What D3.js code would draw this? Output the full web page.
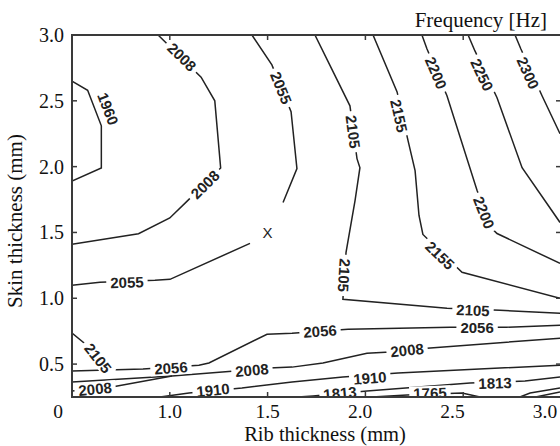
<!DOCTYPE html>
<html>
<head>
<meta charset="utf-8">
<script src="https://cdn.jsdelivr.net/npm/d3@7"></script>
<style>
  body { margin: 0; background: #fff; }
</style>
</head>
<body>
<div id="chart"></div>
<script>
// contour lines, [rib thickness, skin thickness] in mm, one array per polyline
const c1668 = [[[2.87, 0.25], [2.995, 0.288]]]
const c1717 = [[[2.79, 0.25], [2.842, 0.28], [2.995, 0.318]]]
const c1765 = [[[2.034, 0.25], [2.213, 0.265], [2.494, 0.28], [2.586, 0.25]]]
const c1813 = [[[1.655, 0.25], [1.732, 0.258], [2.008, 0.295], [2.535, 0.356], [2.816, 0.371], [2.995, 0.402]]]
const c1910 = [[[0.95, 0.25], [1.098, 0.28], [1.369, 0.318], [1.625, 0.364], [1.885, 0.402], [2.167, 0.432], [2.995, 0.492]]]
const c1960 = [[[0.5, 2.65], [0.58, 2.58], [0.65, 2.31], [0.65, 1.99], [0.5, 1.89]]]
const c2008 = [
  [[0.94, 3.0], [1.16, 2.68], [1.23, 2.5], [1.26, 1.99], [1.09, 1.74], [1.0, 1.61], [0.84, 1.49], [0.5, 1.41]],
  [[0.5, 0.364], [1.011, 0.409], [1.333, 0.447], [1.507, 0.47], [1.625, 0.477], [1.783, 0.508], [2.008, 0.583], [2.126, 0.591], [2.315, 0.621], [2.995, 0.697]],
  [[0.5, 0.295], [0.704, 0.326], [1.011, 0.409]]
]
const c2055 = [
  [[1.42, 3.0], [1.522, 2.773], [1.62, 2.417], [1.65, 1.985], [1.579, 1.727]],
  [[1.41, 1.417], [1.001, 1.144], [0.924, 1.136], [0.643, 1.121], [0.5, 1.098]]
]
const c2056 = [[[0.5, 0.447], [0.863, 0.462], [1.149, 0.492], [1.2, 0.508], [1.497, 0.727], [1.625, 0.735], [1.911, 0.765], [2.433, 0.78], [2.719, 0.78], [2.995, 0.795]]]
const c2105 = [
  [[1.742, 3.0], [1.921, 2.462], [1.957, 2.061], [1.972, 1.992], [1.947, 1.742], [1.901, 1.348], [1.885, 0.992], [2.417, 0.924], [2.688, 0.909], [2.995, 0.886]],
  [[0.5, 0.735], [0.582, 0.636], [0.694, 0.424]]
]
const c2155 = [[[2.039, 3.0], [2.162, 2.568], [2.218, 2.197], [2.254, 1.97], [2.274, 1.629], [2.294, 1.485], [2.494, 1.197], [2.995, 1.0]]]
const c2200 = [[[2.289, 3.0], [2.315, 2.894], [2.417, 2.538], [2.571, 1.818], [2.647, 1.53], [2.673, 1.492], [2.995, 1.265]]]
const c2250 = [[[2.525, 3.0], [2.56, 2.879], [2.673, 2.523], [2.801, 1.992], [2.928, 1.72], [2.995, 1.576]]]
const c2300 = [[[2.765, 3.0], [2.795, 2.894], [2.903, 2.538], [2.995, 2.25]]]

const levels = [1668, 1717, 1765, 1813, 1910, 1960, 2008, 2055, 2056, 2105, 2155, 2200, 2250, 2300]
const contourLines = [c1668, c1717, c1765, c1813, c1910, c1960, c2008, c2055, c2056, c2105, c2155, c2200, c2250, c2300]

// inline labels: [level, rib, skin]
const contourLabels = [
  [1960, 0.684, 2.439],
  [2008, 1.062, 2.833], [2008, 1.18, 1.864], [2008, 1.42, 0.455], [2008, 2.213, 0.606], [2008, 0.618, 0.311],
  [2055, 1.569, 2.598], [2055, 0.781, 1.121],
  [2105, 1.937, 2.265], [2105, 1.891, 1.174], [2105, 2.55, 0.909], [2105, 0.633, 0.545],
  [2056, 1.006, 0.47], [2056, 1.768, 0.75], [2056, 2.571, 0.78],
  [1910, 1.221, 0.303], [1910, 2.023, 0.394],
  [1813, 1.87, 0.28], [1813, 2.663, 0.356],
  [1765, 2.33, 0.28],
  [2155, 2.172, 2.386], [2155, 2.381, 1.326],
  [2200, 2.361, 2.712], [2200, 2.606, 1.652],
  [2250, 2.596, 2.697],
  [2300, 2.831, 2.712]
]

const optimum = [1.5, 1.5]

const xTicks = [0.5, 1.0, 1.5, 2.0, 2.5, 3.0]
const xTickLabels = ['0', '1.0', '1.5', '2.0', '2.5', '3.0']
const yTicks = [0.5, 1.0, 1.5, 2.0, 2.5, 3.0]
const yTickLabels = ['0.5', '1.0', '1.5', '2.0', '2.5', '3.0']

const canvasWidth = 560
const canvasHeight = 446
const margins = {top: 35, right: -1, bottom: 49, left: 72}
const width = canvasWidth - margins.left - margins.right
const height = canvasHeight - margins.top - margins.bottom

const xScale = d3.scaleLinear().domain([0.5, 3.0]).range([0, width])
const yScale = d3.scaleLinear().domain([0.25, 3.0]).range([height, 0])
// tick labels drift a little left of their ticks towards the right end
const labelShift = d3.scaleLinear().domain([1.5, 3.0]).range([0, -16]).clamp(true)

const svg = d3.select('#chart')
  .append('svg')
  .attr('width', canvasWidth)
  .attr('height', canvasHeight)
  .append('g')
  .attr('transform', `translate(${margins.left}, ${margins.top})`)

svg.append('clipPath').attr('id', 'plotClip')
  .append('rect').attr('width', width).attr('height', height)

const plot = svg.append('g').attr('clip-path', 'url(#plotClip)')

const line = d3.line().x(d => xScale(d[0])).y(d => yScale(d[1]))

contourLines.forEach(lines => {
  plot.append('g')
    .selectAll('path')
    .data(lines)
    .enter()
    .append('path')
    .attr('d', line)
    .attr('fill', 'none')
    .attr('stroke', '#222')
    .attr('stroke-width', 1.5)
})

const labelAngle = (level, px, py) => {
  let best = [1, 0]
  let bestD = Infinity
  contourLines[levels.indexOf(level)].forEach(pts => {
    for (let i = 0; i < pts.length - 1; i++) {
      const ax = xScale(pts[i][0]), ay = yScale(pts[i][1])
      const dx = xScale(pts[i + 1][0]) - ax, dy = yScale(pts[i + 1][1]) - ay
      let t = ((px - ax) * dx + (py - ay) * dy) / (dx * dx + dy * dy)
      t = Math.max(0, Math.min(1, t))
      const d = Math.hypot(ax + t * dx - px, ay + t * dy - py)
      if (d < bestD) { bestD = d; best = [dx, dy] }
    }
  })
  let a = Math.atan2(best[1], best[0]) * 180 / Math.PI
  if (a > 95) a -= 180
  if (a < -85) a += 180
  return a
}

const labels = plot.selectAll('g.clabel')
  .data(contourLabels)
  .enter()
  .append('g')
  .attr('class', 'clabel')
  .attr('transform', d => {
    const px = xScale(d[1]), py = yScale(d[2])
    return `translate(${px}, ${py}) rotate(${labelAngle(d[0], px, py)})`
  })

labels.append('rect').attr('fill', '#fff')

labels.append('text')
  .attr('text-anchor', 'middle')
  .attr('dy', '0.36em')
  .attr('font-family', 'Liberation Sans, Arial, sans-serif')
  .attr('font-weight', 'bold')
  .attr('font-size', 15)
  .attr('fill', '#222')
  .text(d => d[0])

labels.each(function () {
  const g = d3.select(this)
  const w = g.select('text').node().getComputedTextLength() + 8
  g.select('rect').attr('x', -w / 2).attr('y', -7).attr('width', w).attr('height', 14)
})

plot.append('text')
  .attr('x', xScale(optimum[0]))
  .attr('y', yScale(optimum[1]))
  .attr('dy', '0.35em')
  .attr('text-anchor', 'middle')
  .attr('font-family', 'Liberation Sans, Arial, sans-serif')
  .attr('font-size', 15)
  .attr('fill', '#222')
  .text('X')

// frame and inward ticks
const frameColor = '#3a3a3a'
svg.append('rect')
  .attr('width', width)
  .attr('height', height)
  .attr('fill', 'none')
  .attr('stroke', frameColor)
  .attr('stroke-width', 2)

const tickLen = 5
const innerX = xTicks.slice(1, -1)
const innerY = yTicks.slice(0, -1)
const ticks = svg.append('g').attr('stroke', frameColor).attr('stroke-width', 1.5)
innerX.forEach(v => {
  ticks.append('line').attr('x1', xScale(v)).attr('x2', xScale(v)).attr('y1', height).attr('y2', height - tickLen)
  ticks.append('line').attr('x1', xScale(v)).attr('x2', xScale(v)).attr('y1', 0).attr('y2', tickLen)
})
innerY.forEach(v => {
  ticks.append('line').attr('y1', yScale(v)).attr('y2', yScale(v)).attr('x1', 0).attr('x2', tickLen)
  ticks.append('line').attr('y1', yScale(v)).attr('y2', yScale(v)).attr('x1', width).attr('x2', width - tickLen)
})

const serif = 'Liberation Serif, Times New Roman, serif'

svg.append('g')
  .selectAll('text')
  .data(xTicks)
  .enter()
  .append('text')
  .attr('x', (d, i) => i === 0 ? xScale(d) - 9 : xScale(d) + labelShift(d))
  .attr('y', height + 21)
  .attr('text-anchor', (d, i) => i === 0 ? 'end' : 'middle')
  .attr('font-family', serif)
  .attr('font-size', 19.5)
  .attr('fill', '#111')
  .text((d, i) => xTickLabels[i])

svg.append('g')
  .selectAll('text')
  .data(yTicks)
  .enter()
  .append('text')
  .attr('x', -8)
  .attr('y', d => yScale(d))
  .attr('dy', '0.35em')
  .attr('text-anchor', 'end')
  .attr('font-family', serif)
  .attr('font-size', 20)
  .attr('fill', '#111')
  .text((d, i) => yTickLabels[i])

svg.append('text')
  .attr('x', (243 + 407) / 2 - margins.left)
  .attr('y', height + 44)
  .attr('text-anchor', 'middle')
  .attr('font-family', serif)
  .attr('font-size', 20.5)
  .attr('fill', '#111')
  .text('Rib thickness (mm)')

svg.append('text')
  .attr('transform', `translate(${-margins.left + 22}, ${height / 2 + 5}) rotate(-90)`)
  .attr('text-anchor', 'middle')
  .attr('font-family', serif)
  .attr('font-size', 21)
  .attr('fill', '#111')
  .text('Skin thickness (mm)')

svg.append('text')
  .attr('x', 547 - margins.left)
  .attr('y', -8)
  .attr('text-anchor', 'end')
  .attr('font-family', serif)
  .attr('font-size', 21)
  .attr('fill', '#111')
  .text('Frequency [Hz]')
</script>
</body>
</html>
